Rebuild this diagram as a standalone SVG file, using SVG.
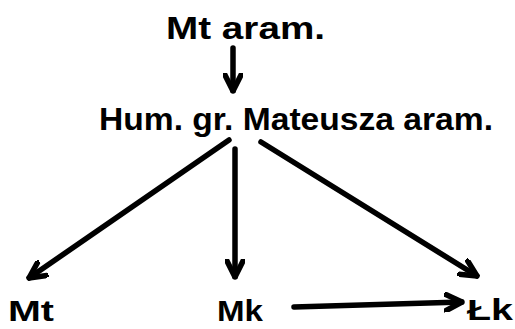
<svg xmlns="http://www.w3.org/2000/svg" width="515" height="329" viewBox="0 0 515 329">
<style>
.t{font-family:"Liberation Sans",Arial,sans-serif;font-weight:bold;fill:#000}
.c{stroke:#000;stroke-width:5.5;fill:none;stroke-linecap:round;stroke-linejoin:round}
</style>
<defs>
<marker id="ah" viewBox="0 0 20 20" refX="18" refY="10" markerWidth="20" markerHeight="20" markerUnits="userSpaceOnUse" orient="auto">
<path d="M2,2 L18,10 L2,18" fill="none" stroke="#000" stroke-width="5.5" stroke-linecap="round" stroke-linejoin="round"/>
</marker>
</defs>
<rect width="515" height="329" fill="#fff"/>
<g id="n-mt-aram"><text class="t" x="166" y="39" font-size="32" textLength="159" lengthAdjust="spacingAndGlyphs">Mt aram.</text></g>
<g id="n-hum"><text class="t" x="99" y="130" font-size="32" textLength="394" lengthAdjust="spacingAndGlyphs">Hum. gr. Mateusza aram.</text></g>
<g id="n-mt"><text class="t" x="8" y="321" font-size="30" textLength="46" lengthAdjust="spacingAndGlyphs">Mt</text></g>
<g id="n-mk"><text class="t" x="217" y="321" font-size="30" textLength="46" lengthAdjust="spacingAndGlyphs">Mk</text></g>
<g id="n-lk"><text class="t" x="467" y="320" font-size="30" textLength="46" lengthAdjust="spacingAndGlyphs">Łk</text></g>
<g id="connectors">
<path class="c" d="M233,48 L233,91" marker-end="url(#ah)"/>
<path class="c" d="M229,140 L29,278" marker-end="url(#ah)"/>
<path class="c" d="M235,149 L235,277" marker-end="url(#ah)"/>
<path class="c" d="M261,142 L477,276" marker-end="url(#ah)"/>
<path class="c" d="M294,307 L462,302" marker-end="url(#ah)"/>
</g>
</svg>
